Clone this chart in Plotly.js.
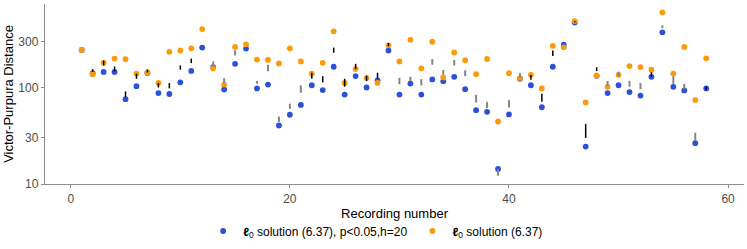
<!DOCTYPE html>
<html>
<head>
<meta charset="utf-8">
<script src="https://cdn.plot.ly/plotly-3.0.1.min.js"></script>
<style>html,body{margin:0;padding:0;background:#fff;}#chart{width:747px;height:249px;}</style>
</head>
<body>
<div id="chart"></div>
<script>
// Recording numbers
const recording = [1,2,3,4,5,6,7,8,9,10,11,12,13,14,15,16,17,18,19,20,21,22,23,24,25,26,27,28,29,30,31,32,33,34,35,36,37,38,39,40,41,42,43,44,45,46,47,48,49,50,51,52,53,54,55,56,57,58];
// l0 solution (6.37), p<0.05, h=20
const bluePts = [245,140.6,145,145,75.7,103.1,141.7,87.6,85.6,113.1,148.4,259,162.8,95.5,175.8,253.1,97.7,107.2,40.4,52.2,65.9,105.5,94,164,84.4,131.2,100,118.5,241.6,84.4,109.7,84.4,121.2,115.7,129.1,96.1,58.2,56,14.3,52.6,123.2,105.5,62.4,164,277.7,470.4,24.4,132.2,87.6,105.5,89.7,82.5,129.1,372.9,101.6,93.3,26.5,97.7];
// l0 solution (6.37)
const orangePts = [245,137.4,179.9,199.3,196.1,139.4,142.7,111.5,234.4,241.6,254.8,402.6,157.9,107.2,263.3,279.7,194.8,192.9,177.4,254.8,185.9,139.4,179.9,381.6,111.5,155.4,125.3,111.5,273.3,185.9,311.9,157.9,297.7,127,230.7,191.5,137.4,197.4,44.4,140.6,125.3,135.2,97.7,269.5,260.9,488,70.1,133.1,101.6,135.2,166.7,162.8,152.9,601,139.4,263.3,74,200.7];
// vertical range segments
const segRec  = [2,3,4,5,6,7,8,9,10,11,13,14,15,17,18,19,20,21,22,23,24,25,26,27,28,29,30,31,32,33,34,35,36,37,38,39,40,41,42,43,44,46,47,48,49,50,51,52,53,54,55,56,57,58];
const segLo   = [145,169,147,79,123,143,100,98,153,179,165,111,215,109,147,44,60,88,123,113,229,102,155,117,124,267,108,117,105,172,136,169,131,70,61,12.2,62,126,120,71,212,472,30,148,104,130,102,96,129,412,108,96,28,95];
const segHi   = [155,190,165,91,139,154,111,111,169,199,186,125,243,117,172,50,68,105,142,131,259,123,176,133,142,289,126,129,122,197,152,193,151,84,71,14.3,74,141,135,86,242,486,42,162,117,146,117,111,144,442,131,109,34,102];
const segGroup= [1,1,1,1,1,1,1,1,1,1,0,0,0,0,0,0,0,0,1,1,1,1,1,1,1,1,0,0,0,0,0,0,0,0,0,0,0,0,1,1,1,1,1,1,0,0,0,0,1,0,0,0,0,1];
const yTicks = [10,30,100,300];
const xTicks = [0,20,40,60];

function segXY(group){
  const xs=[], ys=[];
  segRec.forEach((r,i)=>{ if(segGroup[i]===group){ xs.push(r,r,null); ys.push(segLo[i],segHi[i],null);} });
  return {xs, ys};
}
const dark = segXY(1), light = segXY(0);
const FONT = 'Liberation Sans, Arial, sans-serif';

const traces = [
  {x: recording, y: bluePts, type:'scatter', mode:'markers', name:'<b>ℓ</b><sub>0</sub> solution (6.37), p&lt;0.05,h=20',
   marker:{color:'#2d50d8', size:5.8}},
  {x: recording, y: orangePts, type:'scatter', mode:'markers', name:'<b>ℓ</b><sub>0</sub> solution (6.37)',
   marker:{color:'#fd9a0c', size:5.8}},
  {x: light.xs, y: light.ys, type:'scatter', mode:'lines', showlegend:false, hoverinfo:'skip',
   line:{color:'#858585', width:2}},
  {x: dark.xs, y: dark.ys, type:'scatter', mode:'lines', showlegend:false, hoverinfo:'skip',
   line:{color:'#000000', width:1.5}}
];

const layout = {
  width:747, height:249,
  margin:{l:45, r:3, t:4, b:60},
  paper_bgcolor:'#fff', plot_bgcolor:'#fff',
  font:{family:FONT, size:12, color:'#000'},
  showlegend:true,
  legend:{orientation:'h', x:0.473, xanchor:'center', y:-0.261, yanchor:'middle',
          font:{family:FONT, size:12, color:'#000'}, itemwidth:30, tracegroupgap:0},
  xaxis:{range:[-2.35,61.45], tickvals:xTicks, ticks:'outside', ticklen:3, tickcolor:'#8c8c8c', tickwidth:1,
         showline:true, linecolor:'#8c8c8c', linewidth:1.2, showgrid:false, zeroline:false,
         tickfont:{family:FONT, size:12, color:'#4d4d4d'},
         title:{text:'Recording number', font:{family:FONT, size:13, color:'#000'}, standoff:4}},
  yaxis:{type:'log', range:[1,2.865], tickvals:yTicks, ticktext:yTicks.map(String), ticks:'outside', ticklen:3,
         tickcolor:'#8c8c8c', tickwidth:1, showline:true, linecolor:'#8c8c8c', linewidth:1.2, showgrid:false, zeroline:false,
         tickfont:{family:FONT, size:12, color:'#4d4d4d'},
         title:{text:'Victor-Purpura Distance', font:{family:FONT, size:13, color:'#000'}, standoff:1}}
};
Plotly.newPlot('chart', traces, layout, {displayModeBar:false, staticPlot:true});
</script>
</body>
</html>
